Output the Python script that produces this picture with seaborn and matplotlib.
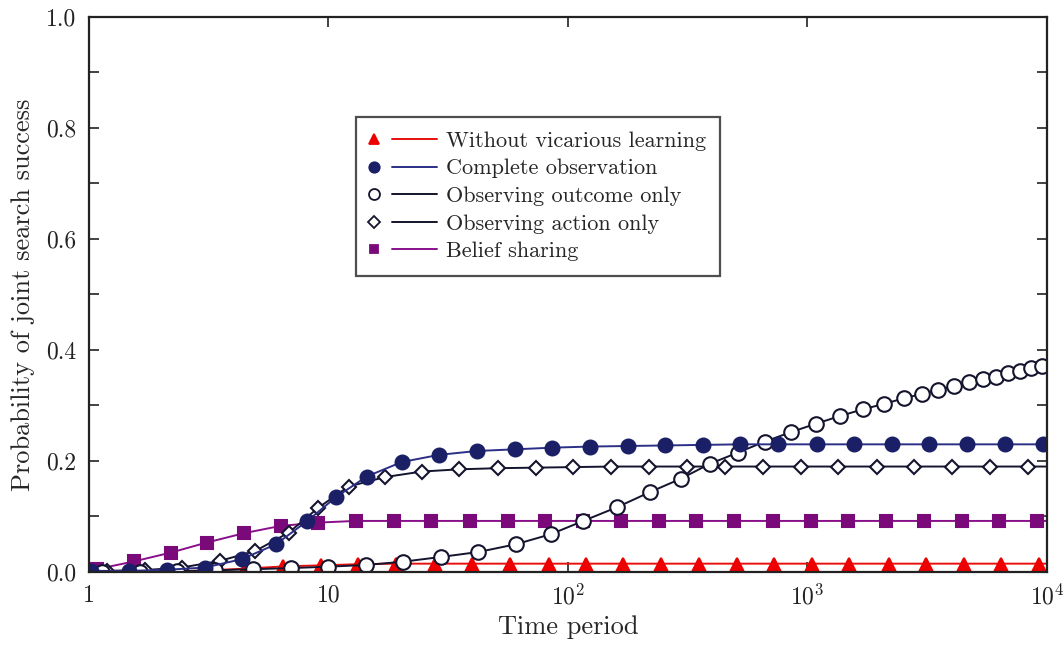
import numpy as np
import pandas as pd
import matplotlib
matplotlib.use('Agg')
import matplotlib.pyplot as plt
import seaborn as sns
from matplotlib.lines import Line2D
from matplotlib.legend_handler import HandlerBase
from matplotlib.ticker import FixedLocator, MultipleLocator, FormatStrFormatter

# data (first/last entries are line ends without markers)
t_without = [1, 1.06, 1.52, 2.18, 3.14, 4.5, 6.45, 9.3, 13.3, 19.2, 27.9, 39.9, 57.1, 83.0, 118.6,
             170, 245, 353, 506, 727, 1043, 1497, 2181, 3130, 4492, 6446, 9250, 10000]
p_without = [0.0, 0.0, 0.0005, 0.001, 0.003, 0.006, 0.010, 0.012, 0.014, 0.015, 0.015, 0.015, 0.015, 0.015, 0.015,
             0.015, 0.015, 0.015, 0.015, 0.015, 0.015, 0.015, 0.015, 0.015, 0.015, 0.015, 0.015, 0.015]

t_complete = [1, 1.02, 1.47, 2.11, 3.05, 4.34, 6.04, 8.11, 10.75, 14.44, 20.2, 28.9, 41.6, 59.9, 86.0,
              123.6, 177.6, 254.9, 366.2, 522.7, 755.2, 1092, 1564, 2247, 3227, 4648, 6677, 9652, 10000]
p_complete = [0.0, 0.002, 0.002, 0.004, 0.008, 0.023, 0.050, 0.091, 0.135, 0.172, 0.198, 0.211, 0.218, 0.221, 0.224,
              0.226, 0.227, 0.228, 0.229, 0.230, 0.230, 0.230, 0.230, 0.230, 0.230, 0.230, 0.230, 0.230, 0.230]

t_outcome = [1, 1.133, 1.627, 2.337, 3.358, 4.825, 6.953, 9.98, 14.34, 20.53, 29.41, 42.22, 60.66, 84.69,
             115.9, 160.9, 220.0, 295.8, 391.6, 511.2, 664.5, 853.3, 1082, 1367, 1700, 2093, 2529, 3015,
             3517, 4090, 4725, 5389, 6108, 6892, 7716, 8577, 9559, 10000]
p_outcome = [0.0, 0.0, 0.0005, 0.001, 0.003, 0.005, 0.007, 0.0096, 0.0126, 0.0186, 0.027, 0.036, 0.050, 0.068,
             0.092, 0.117, 0.144, 0.168, 0.195, 0.215, 0.235, 0.252, 0.267, 0.281, 0.293, 0.303, 0.313, 0.321,
             0.328, 0.335, 0.342, 0.348, 0.352, 0.358, 0.363, 0.367, 0.371, 0.372]

t_action = [1, 1.192, 1.713, 2.438, 3.524, 4.958, 6.83, 9.02, 12.13, 17.21, 24.57, 35.17, 50.88, 73.3, 105.2,
            151.9, 218.6, 314.9, 452.4, 650.1, 936.7, 1345, 1945, 2792, 4023, 5781, 8308, 10000]
p_action = [0.0, 0.002, 0.0035, 0.008, 0.020, 0.038, 0.071, 0.115, 0.154, 0.171, 0.181, 0.185, 0.187, 0.188, 0.189,
            0.190, 0.190, 0.190, 0.190, 0.190, 0.190, 0.190, 0.190, 0.190, 0.190, 0.190, 0.190, 0.190]

t_belief = [1, 1.077, 1.54, 2.20, 3.10, 4.45, 6.31, 9.06, 13.0, 18.8, 26.9, 38.9, 56.0, 80.4, 116,
            166, 239, 342, 495, 716, 1031, 1480, 2128, 3063, 4404, 6322, 9103, 10000]
p_belief = [0.0, 0.005, 0.019, 0.035, 0.053, 0.070, 0.083, 0.089, 0.092, 0.092, 0.092, 0.092, 0.092, 0.092, 0.092,
            0.092, 0.092, 0.092, 0.092, 0.092, 0.092, 0.092, 0.092, 0.092, 0.092, 0.092, 0.092, 0.092]

labels = ['Without vicarious learning', 'Complete observation', 'Observing outcome only',
          'Observing action only', 'Belief sharing']

sns.set_style('ticks')
plt.rcParams['font.family'] = ['cmr10', 'DejaVu Serif']
plt.rcParams['mathtext.fontset'] = 'cm'
plt.rcParams['axes.formatter.use_mathtext'] = True

fig = plt.figure(figsize=(10.64, 6.48), dpi=100)
ax = fig.add_axes([0.0836, 0.1173, 0.9004, 0.8565])

# style per series: line colour, marker, marker size, face, edge
styles = [
    ('#e8100c', '^', 9, '#ee0000', '#ee0000'),
    ('#2b2f86', 'o', 10, '#1a1f66', '#1a1f66'),
    ('#14142e', 'o', 10.5, 'white', '#14142e'),
    ('#14142e', 'D', 7.5, 'white', '#14142e'),
    ('#8a0f8a', 's', 8.5, '#7a0a7a', '#7a0a7a'),
]
series = [(t_without, p_without), (t_complete, p_complete), (t_outcome, p_outcome),
          (t_action, p_action), (t_belief, p_belief)]

order = [0, 4, 3, 2, 1]
for i in order:
    t, p = series[i]
    lc, mk, ms, fc, ec = styles[i]
    df = pd.DataFrame({'t': t, 'p': p})
    sns.lineplot(data=df, x='t', y='p', ax=ax, color=lc, lw=1.4, marker=mk, markersize=ms,
                 markerfacecolor=fc, markeredgecolor=ec, markeredgewidth=1.5,
                 markevery=slice(1, len(t) - 1), clip_on=True)

ax.set_xscale('log')
ax.set_xlim(1, 1e4)
ax.set_ylim(0, 1.0)
ax.xaxis.set_major_locator(FixedLocator([1, 10, 100, 1000, 10000]))
ax.xaxis.set_minor_locator(FixedLocator([]))
ax.set_xticklabels(['1', '10', r'$10^2$', r'$10^3$', r'$10^4$'])
ax.yaxis.set_major_locator(MultipleLocator(0.2))
ax.yaxis.set_minor_locator(MultipleLocator(0.1))
ax.yaxis.set_major_formatter(FormatStrFormatter('%.1f'))
ax.tick_params(which='both', direction='in', top=True, right=True, labelsize=17, width=1.2, colors='#222222')
ax.tick_params(which='major', length=7, pad=9)
ax.tick_params(which='minor', length=7)
for s in ax.spines.values():
    s.set_linewidth(1.6)
    s.set_color('#222222')

ax.set_xlabel('Time period', fontsize=19, labelpad=4)
ax.set_ylabel('Probability of joint search success', fontsize=19, labelpad=8)


# legend key: marker on the left, short line segment on the right
class MarkLineHandler(HandlerBase):
    def create_artists(self, legend, orig_handle, xdescent, ydescent, width, height, fontsize, trans):
        m, l = orig_handle
        y = height / 2 - ydescent
        mark = Line2D([0.06 * width - xdescent], [y], ls='none', marker=m.get_marker(),
                      markersize=m.get_markersize(), markerfacecolor=m.get_markerfacecolor(),
                      markeredgecolor=m.get_markeredgecolor(), markeredgewidth=m.get_markeredgewidth())
        seg = Line2D([0.32 * width - xdescent, width - xdescent], [y, y], color=l.get_color(), lw=l.get_linewidth())
        mark.set_transform(trans)
        seg.set_transform(trans)
        return [mark, seg]


class MarkLine:
    def __init__(self, m, l):
        self.m, self.l = m, l

    def __iter__(self):
        return iter((self.m, self.l))


handles = []
for i in range(5):
    lc, mk, ms, fc, ec = styles[i]
    m = Line2D([], [], ls='none', marker=mk, markersize=ms * 0.75, markerfacecolor=fc,
               markeredgecolor=ec, markeredgewidth=1.3)
    l = Line2D([], [], color=lc, lw=1.4)
    handles.append(MarkLine(m, l))
leg = ax.legend(handles, labels, handler_map={MarkLine: MarkLineHandler()},
                loc='upper left', bbox_to_anchor=(0.267, 0.84), fontsize=16, frameon=True,
                fancybox=False, edgecolor='#222222', handlelength=3.0, handletextpad=0.4,
                labelspacing=0.36, borderpad=0.65)
leg.get_frame().set_linewidth(1.6)

fig.savefig('out.png', dpi=100)
